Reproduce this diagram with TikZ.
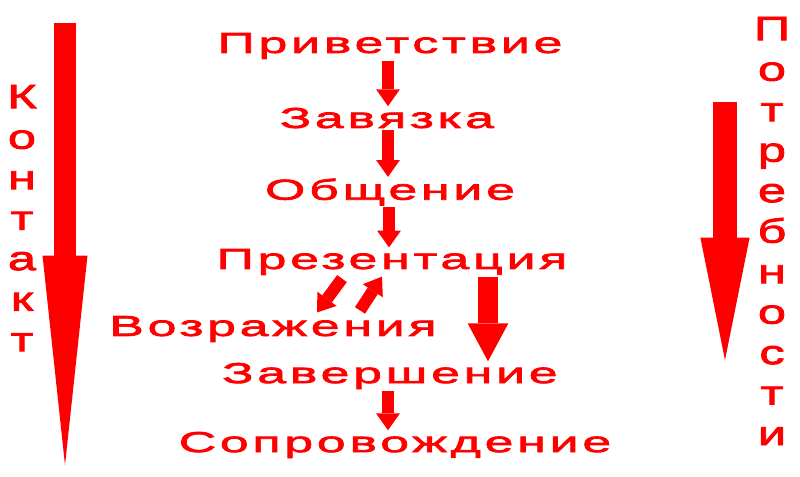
\documentclass[tikz,border=0pt]{standalone}
\usepackage{fontspec}
\usetikzlibrary{arrows.meta,calc}
\newfontfamily\techfont[FakeStretch=1.8,FakeBold=2.5,LetterSpace=13]{Liberation Sans}
\newfontfamily\sidefont[FakeStretch=1.5,FakeBold=2.5]{Liberation Sans}
\definecolor{signred}{RGB}{255,0,0}

\begin{document}
\begin{tikzpicture}[x=0.25mm, y=-0.25mm,
    stage/.style={text=signred, font=\techfont\fontsize{20.5}{24}\selectfont, inner sep=1pt},
    side/.style={text=signred, font=\sidefont\fontsize{24}{28.8}\selectfont, align=center, inner sep=0pt},
    link/.style={draw=signred, line width=8.5pt, -{Triangle[length=12pt, width=17pt, line width=0pt]}},
    wide/.style={draw=signred, line width=14pt, -{Triangle[length=27pt, width=29pt, line width=0pt]}},
    track/.style={draw=signred, line width=#1, -{Triangle[length=87pt, width=35pt, line width=0pt]}}
]
\useasboundingbox (0,0) rectangle (800,476);

% Nodes
\node[stage] (privet) at (390,46) {Приветствие};
\node[stage] (zavyaz) at (387,118) {Завязка};
\node[stage] (obsh) at (390,192) {Общение};
\node[stage] (prez) at (392,262) {Презентация};
\node[stage] (vozr) at (273,329) {Возражения};
\node[stage] (zaversh) at (390,376) {Завершение};
\node[stage] (soprov) at (395,445) {Сопровождение};

\node[side] (kontakt) at (22,218) {К\\о\\н\\т\\а\\к\\т};
\node[side] (potreb) at (772,231) {П\\о\\т\\р\\е\\б\\н\\о\\с\\т\\и};

\coordinate (ktop) at (65,23);
\coordinate (kbot) at (65,465);
\coordinate (ptop) at (725,102);
\coordinate (pbot) at (725,360);

% Arrows
\draw[link] ($(privet.south)+(-2,0)$) -- ($(privet.south |- zavyaz.north)+(-2,0)$);
\draw[link] ($(privet.south |- zavyaz.south)+(-2,0)$) -- ($(privet.south |- obsh.north)+(-2,0)$);
\draw[link] ($(privet.south |- obsh.south)+(-1,0)$) -- ($(privet.south |- prez.north)+(-1,0)$);
\draw[link] ($(prez.south)+(-50,2)$) -- ($(vozr.north)+(44,-2)$);
\draw[link] ($(vozr.north)+(87,-4)$) -- ($(prez.south)+(-10,0)$);
\draw[wide] ($(prez.south)+(96,0)$) -- ($(zaversh.north)+(98,0)$);
\draw[link] ($(zaversh.south)+(-2,0)$) -- ($(zaversh.south |- soprov.north)+(-2,0)$);

\draw[track=15.6pt, -{Triangle[length=149pt, width=32pt, line width=0pt]}] (ktop) -- (kbot);
\draw[track=17pt] (ptop) -- (pbot);

\end{tikzpicture}
\end{document}
